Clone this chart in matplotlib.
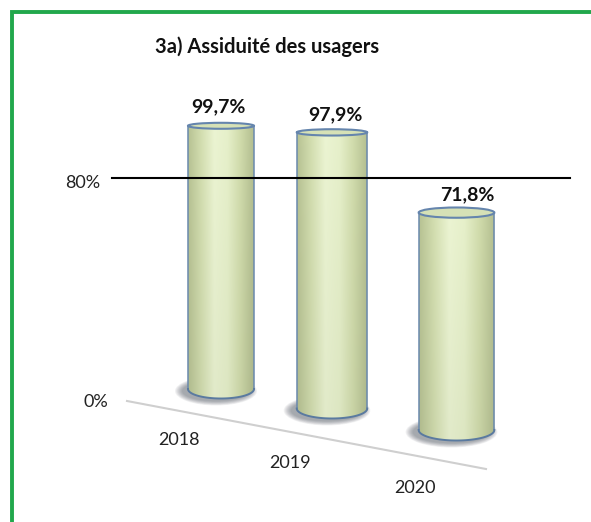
import numpy as np
import matplotlib.pyplot as plt
from matplotlib.patches import Ellipse, PathPatch
from matplotlib.path import Path
from matplotlib.colors import LinearSegmentedColormap

plt.rcParams['font.family'] = ['Lato', 'DejaVu Sans']

# data
years = ['2018', '2019', '2020']
values = [99.7, 97.9, 71.8]
value_labels = ['99,7%', '97,9%', '71,8%']
ref_ticks = [0, 80]
ref_tick_labels = ['0%', '80%']
title = '3a) Assiduité des usagers'

W, H = 591, 522
PX_PER_PCT = 2.64
RADIUS = 33


def place(i):
    """perspective placement of category i: centre x, floor y, scale"""
    s = 1.0 / (1.0 - 0.064 * i)
    cx = 221 + 111 * i + 6.75 * i * (i - 1)
    base = 389 + 18.5 * i + 1.0 * i * i
    return cx, base, s


def to_y(i, v):
    cx, base, s = place(i)
    return base - v * PX_PER_PCT * s


def ell_minor(y):
    # ellipses get rounder the further below eye level
    return 0.0247 * (y - 4.6)


body_cmap = LinearSegmentedColormap.from_list(
    'body', ['#b7c293', '#d3deb0', '#ebf4d2', '#e6f0ca', '#d0dbab', '#b3be90'])

fig = plt.figure(figsize=(W / 100, H / 100), dpi=100)
ax = fig.add_axes([0, 0, 1, 1])
ax.set_xlim(0, W)
ax.set_ylim(H, 0)
ax.axis('off')

# floor / category axis line
ax.plot([127, 486], [401, 469], color='#cfcfcf', lw=1.5, zorder=1)

for i, (yr, v, lab) in enumerate(zip(years, values, value_labels)):
    cx, base, s = place(i)
    r = RADIUS * s
    top = to_y(i, v)
    mb = ell_minor(base)
    mt = ell_minor(top)

    # soft shadow under the cylinder
    for k in range(8):
        ax.add_patch(Ellipse((cx - 5, base + 2), 2 * (r + 8 - k), 2 * (mb + 5 - 0.6 * k),
                             fc='#3c4650', ec='none', alpha=0.07, zorder=2))

    # body
    t = np.linspace(np.pi, 0, 60)
    verts = [(cx - r, top), (cx - r, base)]
    verts += list(zip(cx + r * np.cos(t), base + mb * np.sin(t)))
    verts += [(cx + r, top), (cx - r, top)]
    body = PathPatch(Path(verts), fc='none', ec='none', zorder=3)
    ax.add_patch(body)
    gx = np.linspace(0, 1, 200)
    gy = np.linspace(1.0, 0.96, 60)[:, None]
    grad = body_cmap(gx)[None, :, :3] * gy[:, :, None]
    im = ax.imshow(grad, extent=(cx - r, cx + r, base + mb, top), origin='upper',
                   aspect='auto', interpolation='bicubic', zorder=3)
    im.set_clip_path(body)

    # outline
    ax.plot([cx - r, cx - r], [top, base], color='#6a89ad', lw=1.1, zorder=4)
    ax.plot([cx + r, cx + r], [top, base], color='#6a89ad', lw=1.1, zorder=4)
    ax.plot(cx + r * np.cos(t), base + mb * np.sin(t), color='#5a7aa0', lw=1.4, zorder=4)

    # top cap
    ax.add_patch(Ellipse((cx, top), 2 * r, 2 * mt, fc='#d6e1b6', ec='#6585ad',
                         lw=1.5, zorder=5))

    # value label
    ax.text(cx - 3 + 6.75 * i, top - mt - 16 + 1.5 * i, lab, ha='center', va='center',
            fontsize=14, fontweight='bold', color='#111111', zorder=6)

    # category label
    ax.text(cx - 42, base + 51 + 3.5 * i, yr, ha='center', va='center',
            fontsize=13, color='#222222', zorder=6)

# reference line at 80%
y80 = to_y(0, ref_ticks[1])
ax.plot([112, 570], [y80, y80], color='black', lw=1.5, zorder=7)
ax.text(83, y80 + 5, ref_tick_labels[1], ha='center', va='center', fontsize=13,
        color='#222222')
ax.text(96, to_y(0, ref_ticks[0]) + 13, ref_tick_labels[0], ha='center', va='center',
        fontsize=13, color='#222222')

ax.text(267, 47, title, ha='center', va='center', fontsize=14.5, fontweight='bold',
        color='#111111')

# green frame (left and top edges only visible)
ax.plot([12, 12, W + 5], [H + 5, 12, 12], color='#22a84c', lw=2.8,
        solid_joinstyle='miter', clip_on=False)

ax.set_xlim(0, W)
ax.set_ylim(H, 0)
fig.savefig('out.png', dpi=100)
